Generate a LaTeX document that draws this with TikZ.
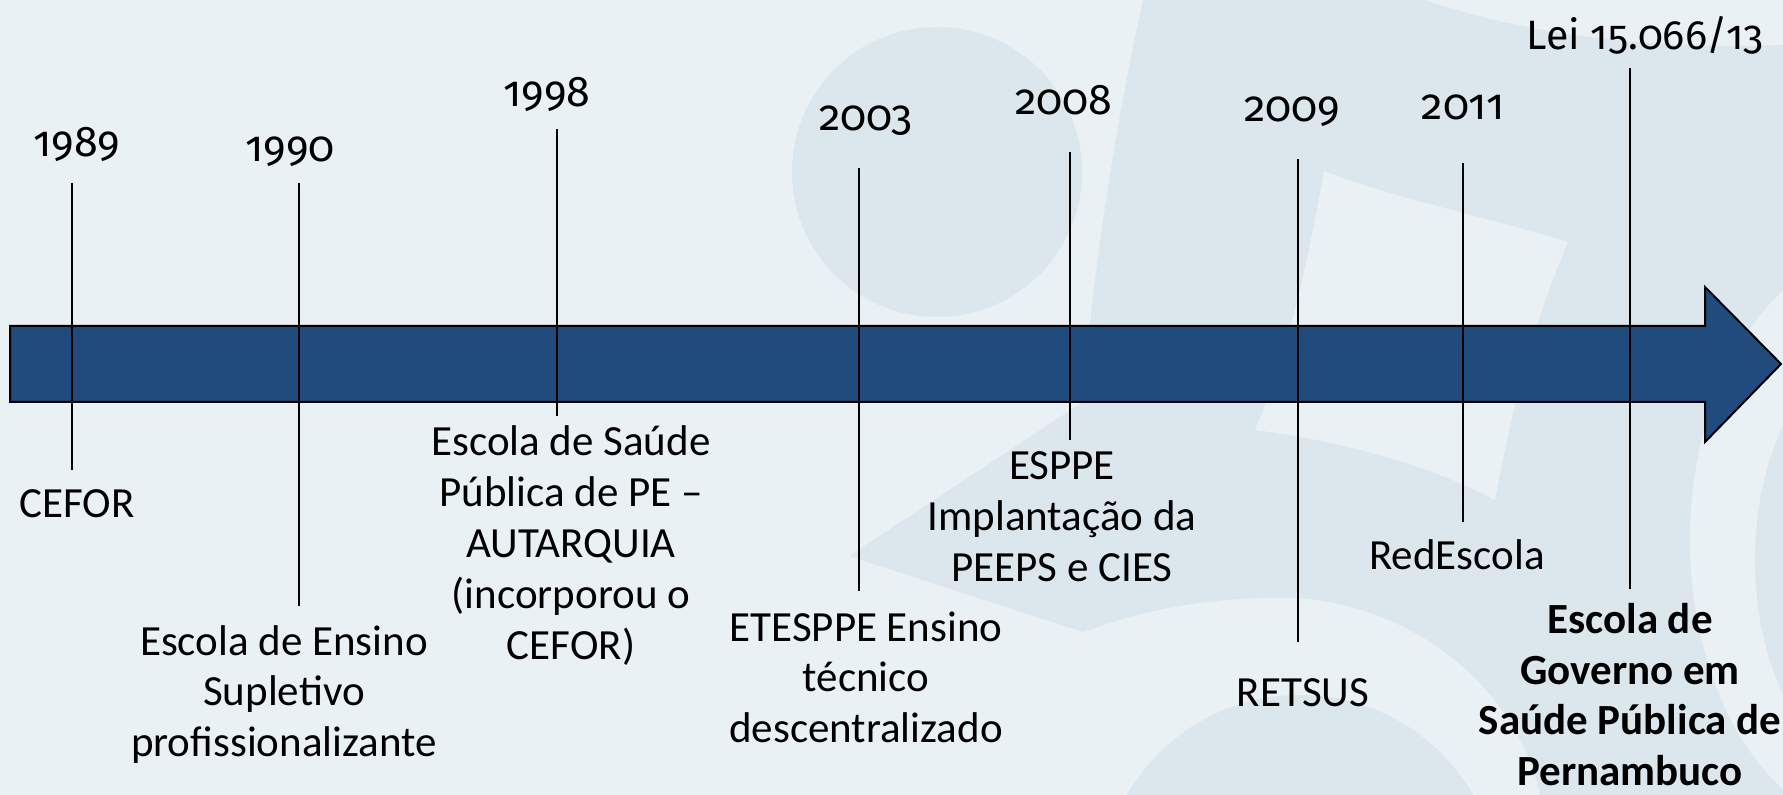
\documentclass[tikz,border=0pt]{standalone}
\usepackage{fontspec}
\setmainfont{Carlito}
\newfontfamily\yearfont{Fira Sans}[Numbers=OldStyle]

\definecolor{bgblue}{HTML}{EAF1F5}
\definecolor{markblue}{HTML}{DCE6ED}
\definecolor{barblue}{HTML}{214A7D}

\tikzset{
  yearlbl/.style={anchor=base,font=\yearfont\fontsize{21.5}{26}\selectfont},
  eventlbl/.style={anchor=base,align=center,font=\fontsize{21.5}{25.5}\selectfont},
  stem/.style={draw=black,line width=1pt}
}

\begin{document}
\begin{tikzpicture}[x=0.5pt,y=-0.5pt]
\useasboundingbox (0,0) rectangle (1783,795);
\fill[bgblue] (0,0) rectangle (1783,795);

% watermark in the background
\begin{scope}
\clip (0,0) rectangle (1783,795);
\fill[markblue] (937,172) circle (72.5pt);
\fill[markblue] (1143,0) -- (1424,0) .. controls (1530,35) and (1650,50) .. (1783,45)
  -- (1783,795) -- (1540,795) .. controls (1520,700) and (1430,610) .. (1300,598)
  .. controls (1200,595) and (1130,615) .. (1083,632) -- (849,556) -- (1083,402)
  .. controls (1090,300) and (1110,150) .. (1143,0) -- cycle;
\fill[bgblue] (1324,171) .. controls (1400,200) and (1480,215) .. (1568,242)
  .. controls (1530,330) and (1510,420) .. (1495,500)
  .. controls (1420,460) and (1330,440) .. (1255,430)
  .. controls (1290,350) and (1310,250) .. (1324,171) -- cycle;
\fill[markblue] (1300,895) circle (100pt);
\fill[bgblue] (1880,540) ellipse (95pt and 145pt);
\fill[markblue] (1890,560) ellipse (67.5pt and 110pt);
\end{scope}

% the time line
\filldraw[fill=barblue,draw=black,line width=1pt] (10,326) -- (1705,326) -- (1705,287)
  -- (1781,364) -- (1705,442) -- (1705,402) -- (10,402) -- cycle;

\coordinate (t89) at (72,183);
\coordinate (b89) at (72,470);
\coordinate (t90) at (299,183);
\coordinate (b90) at (299,606);
\coordinate (t98) at (557,129);
\coordinate (b98) at (557,416);
\coordinate (t03) at (859,168);
\coordinate (b03) at (859,591);
\coordinate (t08) at (1070,152);
\coordinate (b08) at (1070,440);
\coordinate (t09) at (1298,159);
\coordinate (b09) at (1298,642);
\coordinate (t11) at (1463,163);
\coordinate (b11) at (1463,522);
\coordinate (tlei) at (1630,68);
\coordinate (blei) at (1630,589);

\node[yearlbl] (y89) at (77,157) {1989};
\node[yearlbl] (y90) at (290,162) {1990};
\node[yearlbl] (y98) at (547,107) {1998};
\node[yearlbl] (y03) at (866,131) {2003};
\node[yearlbl] (y08) at (1064,115) {2008};
\node[yearlbl] (y09) at (1292,122) {2009};
\node[yearlbl] (y11) at (1463,120) {2011};
\node[yearlbl,font=\yearfont\fontsize{20.5}{25}\selectfont] (lei) at (1645,50) {Lei 15.066/13};

% last line of each text sits on the given point
\node[eventlbl] (cefor) at (77,518) {CEFOR};
\node[eventlbl] (supletivo) at (284,757) {Escola de Ensino\\Supletivo\\profissionalizante};
\node[eventlbl] (autarquia) at (571,660) {Escola de Saúde\\Pública de PE –\\AUTARQUIA\\(incorporou o\\CEFOR)};
\node[eventlbl] (etesppe) at (866,743) {ETESPPE Ensino\\técnico\\descentralizado};
\node[eventlbl] (esppe) at (1062,582) {ESPPE\\Implantação da\\PEEPS e CIES};
\node[eventlbl] (retsus) at (1303,707) {RETSUS};
\node[eventlbl] (redescola) at (1457,570) {RedEscola};
\node[eventlbl,inner sep=1pt,font=\fontsize{21.5}{25.5}\selectfont\bfseries] (governo) at (1630,786) {Escola de\\Governo em\\Saúde Pública de\\Pernambuco};

\draw[stem] (t89) -- (b89);
\draw[stem] (t90) -- (b90);
\draw[stem] (t98) -- (b98);
\draw[stem] (t03) -- (b03);
\draw[stem] (t08) -- (b08);
\draw[stem] (t09) -- (b09);
\draw[stem] (t11) -- (b11);
\draw[stem] (tlei) -- (blei);
\end{tikzpicture}
\end{document}
